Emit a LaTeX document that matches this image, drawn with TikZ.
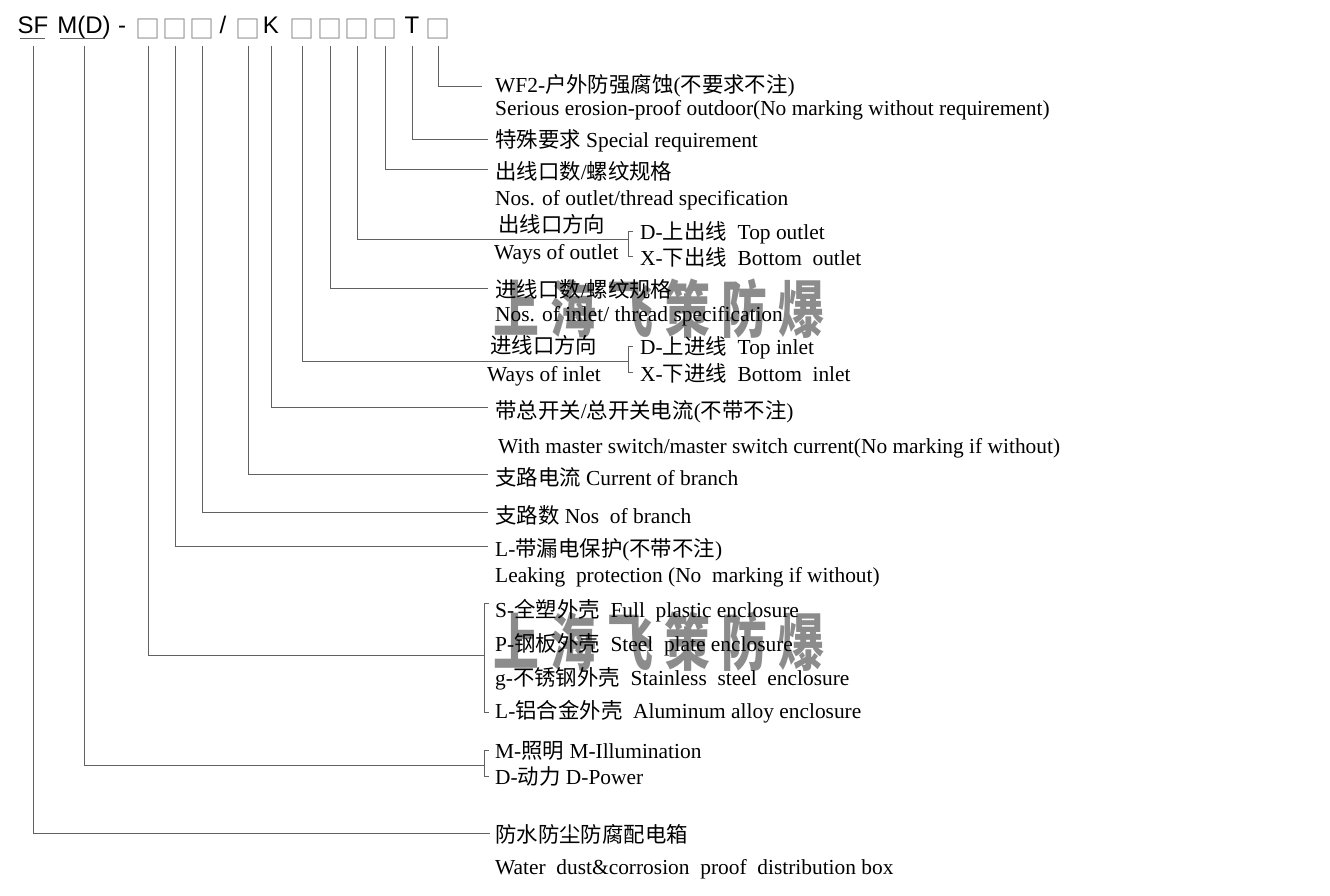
\documentclass[tikz,border=0pt]{standalone}
\usepackage{fontspec}
\setmainfont{Liberation Serif}
\newfontfamily\cjk{Noto Sans CJK SC}
\newfontfamily\hd{Liberation Sans}
\newcommand\zh[1]{{\cjk #1}}
\newcommand\wmtext{\scalebox{0.74}[1]{上\hspace{15pt}海\hspace{15pt}飞\hspace{15pt}策\hspace{15pt}防\hspace{15pt}爆}}
\begin{document}
\begin{tikzpicture}[x=1pt,y=-1pt,
  ln/.style={draw=black!62, line width=1pt},
  lbl/.style={anchor=base west, inner sep=0pt, font=\fontsize{21.4}{24}\selectfont},
  hdr/.style={anchor=base, inner sep=0pt, font=\hd\fontsize{24}{28}\selectfont},
  bx/.style={anchor=base, inner sep=0pt, text=black!50, font=\cjk\fontsize{25}{28}\selectfont},
  wmk/.style={anchor=center, inner sep=0pt, text=black!45, font=\cjk\bfseries\fontsize{62}{66}\selectfont}]
\useasboundingbox (0,0) rectangle (1330,896);
% watermark
\node[wmk] (wm1) at (659,309) {\wmtext};
\node[wmk] (wm2) at (659,642) {\wmtext};
% header
\node[hdr] (hSF) at (33,34) {SF};
\node[hdr] (hMD) at (84,34) {M(D)};
\node[hdr] (hdash) at (122,34) {-};
\node[bx] (b1) at (148,39) {□};
\node[bx] (b2) at (175,39) {□};
\node[bx] (b3) at (202,39) {□};
\node[hdr] (hsl) at (223,34) {/};
\node[bx] (b4) at (248,39) {□};
\node[hdr] (hK) at (271,34) {K};
\node[bx] (b5) at (302,39) {□};
\node[bx] (b6) at (330,39) {□};
\node[bx] (b7) at (357,39) {□};
\node[bx] (b8) at (385,39) {□};
\node[hdr] (hT) at (412,34) {T};
\node[bx] (b9) at (438,39) {□};
\draw[ln] (20,39) -- (45,39);
\draw[ln] (60,39) -- (105,39);
\coordinate (top) at (0,46);
% labels
\node[lbl] (t1) at (495,93) {WF2-\zh{户外防强腐蚀}(\zh{不要求不注})};
\node[lbl] (t2) at (495,116) {Serious erosion-proof outdoor(No marking without requirement)};
\node[lbl] (t3) at (495,148) {\zh{特殊要求} Special requirement};
\node[lbl] (t4) at (495,180) {\zh{出线口数}/\zh{螺纹规格}};
\node[lbl] (t5) at (495,206) {Nos. of outlet/thread specification};
\node[lbl] (t6) at (498,233) {\zh{出线口方向}};
\node[lbl] (t7) at (494,259) {Ways of outlet};
\node[lbl] (t8) at (640,239) {D-\zh{上出线}~ Top outlet};
\node[lbl] (t9) at (640,265) {X-\zh{下出线}~ Bottom~ outlet};
\node[lbl] (t10) at (495,297) {\zh{进线口数}/\zh{螺纹规格}};
\node[lbl] (t11) at (495,321) {Nos. of inlet/ thread specification};
\node[lbl] (t12) at (490,353) {\zh{进线口方向}};
\node[lbl] (t13) at (487,381) {Ways of inlet};
\node[lbl] (t14) at (640,354) {D-\zh{上进线}~ Top inlet};
\node[lbl] (t15) at (640,381) {X-\zh{下进线}~ Bottom~ inlet};
\node[lbl] (t16) at (495,418) {\zh{带总开关}/\zh{总开关电流}(\zh{不带不注})};
\node[lbl] (t17) at (498,453) {With master switch/master switch current(No marking if without)};
\node[lbl] (t18) at (495,485) {\zh{支路电流} Current of branch};
\node[lbl] (t19) at (495,523) {\zh{支路数} Nos~ of branch};
\node[lbl] (t20) at (495,556) {L-\zh{带漏电保护}(\zh{不带不注})};
\node[lbl] (t21) at (495,582) {Leaking~ protection (No~ marking if without)};
\node[lbl] (t22) at (495,617) {S-\zh{全塑外壳}~ Full~ plastic enclosure};
\node[lbl] (t23) at (495,651) {P-\zh{钢板外壳}~ Steel~ plate enclosure};
\node[lbl] (t24) at (495,685) {g-\zh{不锈钢外壳}~ Stainless~ steel~ enclosure};
\node[lbl] (t25) at (495,718) {L-\zh{铝合金外壳}~ Aluminum alloy enclosure};
\node[lbl] (t26) at (495,758) {M-\zh{照明} M-Illumination};
\node[lbl] (t27) at (495,784) {D-\zh{动力} D-Power};
\node[lbl] (t28) at (495,842) {\zh{防水防尘防腐配电箱}};
\node[lbl] (t29) at (495,874) {Water~ dust\&corrosion~ proof~ distribution box};
% line ends
\coordinate (e1) at (482,87);
\coordinate (e2) at (488,140);
\coordinate (e3) at (488,170);
\coordinate (e4) at (628,239);
\coordinate (e5) at (488,288);
\coordinate (e6) at (628,361);
\coordinate (e7) at (488,407);
\coordinate (e8) at (488,474);
\coordinate (e9) at (488,512);
\coordinate (e10) at (488,546);
\coordinate (e11) at (484,655);
\coordinate (e12) at (484,765);
\coordinate (e13) at (490,833);
% connectors
\draw[ln] (b9.south |- top) |- (e1);
\draw[ln] (hT.south |- top) |- (e2);
\draw[ln] (b8.south |- top) |- (e3);
\draw[ln] (b7.south |- top) |- (e4);
\draw[ln] (b6.south |- top) |- (e5);
\draw[ln] (b5.south |- top) |- (e6);
\draw[ln] (hK.south |- top) |- (e7);
\draw[ln] (b4.south |- top) |- (e8);
\draw[ln] (b3.south |- top) |- (e9);
\draw[ln] (b2.south |- top) |- (e10);
\draw[ln] (b1.south |- top) |- (e11);
\draw[ln] (hMD.south |- top) |- (e12);
\draw[ln] (hSF.south |- top) |- (e13);
% brackets
\draw[ln] (633,231) -- (628,231) -- (628,256) -- (633,256);
\draw[ln] (633,346) -- (628,346) -- (628,372) -- (633,372);
\draw[ln] (489,603) -- (484,603) -- (484,712) -- (489,712);
\draw[ln] (489,750) -- (484,750) -- (484,776) -- (489,776);
\end{tikzpicture}
\end{document}
